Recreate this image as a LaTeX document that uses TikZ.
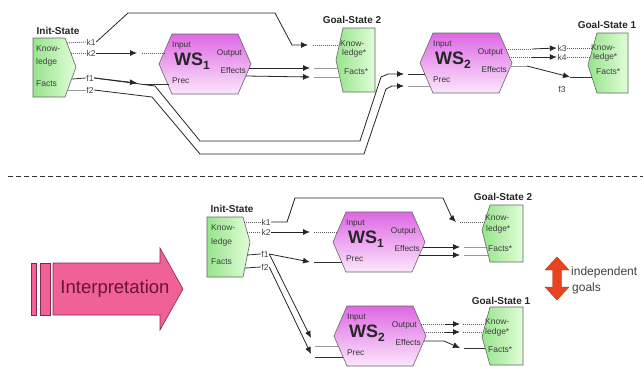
\documentclass[tikz,border=0pt]{standalone}
\usepackage{fontspec}
\setmainfont{Liberation Sans}
\usetikzlibrary{arrows.meta}
\definecolor{hxT}{RGB}{222,104,228}
\definecolor{hxB}{RGB}{252,230,252}
\definecolor{gbL}{RGB}{150,228,140}
\definecolor{gbR}{RGB}{226,253,216}
\definecolor{pinkA}{RGB}{240,98,150}
\definecolor{pinkD}{RGB}{130,40,70}
\definecolor{pinkT}{RGB}{105,20,50}
\definecolor{redA}{RGB}{232,66,30}
\tikzset{
  greenbox/.style={draw=black!60, line width=0.6pt, left color=gbL, right color=gbR},
  hexbox/.style={draw=black!60, line width=0.6pt, top color=hxT, bottom color=hxB},
  title/.style={font=\bfseries\fontsize{10}{10}\selectfont, inner sep=0pt, text=black!85},
  lbl/.style={font=\fontsize{8.5}{9}\selectfont, inner sep=0pt, text=black!75},
  hxs/.style={font=\fontsize{8.3}{9}\selectfont, inner sep=0pt, text=black!80},
  klbl/.style={font=\fontsize{8.5}{9}\selectfont, inner sep=0.5pt, text=black!75},
  wst/.style={font=\bfseries\fontsize{18}{18}\selectfont, inner sep=0pt, text=black!85},
  conn/.style={draw=black!80, line width=0.8pt},
  arr/.style={draw=black!85, line width=0.8pt, -{Latex[length=7pt,width=6pt]}},
  dots/.style={draw=black!65, line width=0.8pt, dash pattern=on 1pt off 1pt},
  greyl/.style={draw=black!40, line width=0.8pt},
  pics/wshex/.style={code={
    \path[hexbox] (-46,0) -- (-33,-30) -- (33,-30) -- (46,0) -- (33,30) -- (-33,30) -- cycle;
    \node[hxs, anchor=west] (-in) at (-33,-18) {Input};
    \node[wst, anchor=west] (-ws) at (-31,-3) {WS\raisebox{-4pt}{\fontsize{12}{12}\selectfont #1}};
    \node[hxs, anchor=east] (-out) at (37,-11) {Output};
    \node[hxs, anchor=east] (-eff) at (41,7) {Effects};
    \node[hxs, anchor=west] (-prec) at (-33,17) {Prec};
  }}
}
\begin{document}
\begin{tikzpicture}[x=1pt,y=-1pt]
\useasboundingbox (0,0) rectangle (643,367);
\fill[white] (0,0) rectangle (643,367);

% ================= TOP =================
% Init-State
\node[title] (tinit) at (58,31) {Init-State};
\path[greenbox] (33,38) -- (65,38) -- (76,67) -- (65,97) -- (33,97) -- cycle;
\node[lbl, anchor=west] (tknow) at (36,49) {Know-};
\node[lbl, anchor=west] (tledge) at (36,62) {ledge};
\node[lbl, anchor=west] (tfacts) at (36,84) {Facts};
\coordinate (tik1) at (67,43);
\coordinate (tik2) at (71,53);
\coordinate (tif1) at (72,79);
\coordinate (tif2) at (68,90);
\node[klbl] (tk1) at (91,42) {k1};
\node[klbl] (tk2) at (91,53) {k2};
\node[klbl] (tf1) at (90,78) {f1};
\node[klbl] (tf2) at (90,90) {f2};
\draw[dots] (tik1) -- (tk1.west);
\draw[dots] (tik2) -- (tk2.west);
\draw[conn] (tif1) -- (tf1.west);
\draw[greyl] (tif2) -- (tf2.west);

% WS1 and WS2
\pic (tws1) at (205,64) {wshex=1};
\pic (tws2) at (466,63) {wshex=2};

% Goal-State 2 (top)
\node[title] (tg2t) at (352,20) {Goal-State 2};
\path[greenbox] (336,60) -- (343,28) -- (375,28) -- (375,92) -- (343,92) -- cycle;
\node[lbl, anchor=west] (tg2know) at (340,44) {Know-};
\node[lbl, anchor=west] (tg2ledge) at (342,53) {ledge*};
\node[lbl, anchor=west] (tg2facts) at (344,72) {Facts*};

% Goal-State 1 (top)
\node[title] (tg1t) at (607,25) {Goal-State 1};
\path[greenbox] (588,65) -- (597,33) -- (628,33) -- (628,93) -- (597,93) -- cycle;
\node[lbl, anchor=west] (tg1know) at (591,48) {Know-};
\node[lbl, anchor=west] (tg1ledge) at (593,57) {ledge*};
\node[lbl, anchor=west] (tg1facts) at (596,72) {Facts*};

% coordinates of ports
\coordinate (tg2k) at (339,45);
\coordinate (tg2f1) at (338,68);
\coordinate (tg2f2) at (340,77);
\coordinate (tw1in) at (165,53);
\coordinate (tw1pr) at (169,84);
\coordinate (tw1e1) at (249,68);
\coordinate (tw1e2) at (246,76);
\coordinate (tw2p1) at (425,74);
\coordinate (tw2p2) at (430,86);
\coordinate (tw2o1) at (506,49);
\coordinate (tw2o2) at (509,57);
\coordinate (tw2o3) at (510,66);
\coordinate (tg1k1) at (593,48);
\coordinate (tg1k2) at (590,57);
\coordinate (tg1f) at (592,77);

% k1 -> Goal-State 2 knowledge
\coordinate (ta1) at (308,45);
\coordinate (ta1b) at (313,45);
\draw[arr] (tk1.east) -- (128,13) -- (275,13) -- (292,45) -- (ta1);
\draw[dots] (ta1b) -- (tg2k);
% k2 -> WS1 input
\coordinate (ta2) at (137,53);
\coordinate (ta2b) at (142,53);
\draw[arr] (tk2.east) -- (ta2);
\draw[dots] (ta2b) -- (tw1in);
% f1 -> WS1 prec
\coordinate (ta3) at (137,83);
\coordinate (ta3b) at (143,84);
\draw[arr] (tf1.east) -- (ta3);
\draw[conn] (ta3b) -- (tw1pr);
% f1, f2 -> WS2 prec
\coordinate (ta4) at (404,74);
\coordinate (ta4b) at (408,74);
\coordinate (ta5) at (404,86);
\coordinate (ta5b) at (408,86);
\draw[arr] (tf1.east) -- (155,86) -- (200,141) -- (360,141) -- (381,77) -- (388,74) -- (ta4);
\draw[arr] (tf2.east) -- (152,97) -- (200,154) -- (364,154) -- (386,89) -- (392,86) -- (ta5);
\draw[conn] (ta4b) -- (tw2p1);
\draw[greyl] (ta5b) -- (tw2p2);
% WS1 effects -> Goal-State 2 facts
\coordinate (ta6) at (310,68);
\coordinate (ta6b) at (314,68);
\coordinate (ta7) at (310,77);
\coordinate (ta7b) at (314,77);
\draw[arr] (tw1e1) -- (ta6);
\draw[arr] (tw1e2) -- (ta7);
\draw[greyl] (ta6b) -- (tg2f1);
\draw[greyl] (ta7b) -- (tg2f2);
% WS2 outputs -> k3, k4, f3
\node[klbl] (tk3) at (562,48) {k3};
\node[klbl] (tk4) at (562,57) {k4};
\node[klbl] (tf3) at (562,89) {f3};
\coordinate (tm1) at (532,49);
\coordinate (tm2) at (532,57);
\coordinate (tm3) at (527,66);
\coordinate (ta8) at (570,77);
\draw[dots] (tw2o1) -- (tm1);
\draw[arr] (tm1) -- (tk3.west);
\draw[dots] (tw2o2) -- (tm2);
\draw[arr] (tm2) -- (tk4.west);
\draw[dots] (tk3.east) -- (tg1k1);
\draw[dots] (tk4.east) -- (tg1k2);
\draw[greyl] (tw2o3) -- (tm3);
\draw[arr] (tm3) -- (ta8);
\draw[conn] (ta8) -- (tg1f);

% separator
\draw[draw=black!80, line width=0.8pt, dash pattern=on 5pt off 3pt] (8,176) -- (643,176);

% ================= BOTTOM =================
% Interpretation arrow
\path[fill=pinkA, draw=pinkD, line width=0.6pt] (31,263) rectangle (36,315);
\path[fill=pinkA, draw=pinkD, line width=0.6pt] (40,263) rectangle (50,315);
\path[fill=pinkA, draw=pinkD, line width=0.6pt] (53,263) -- (160,263) -- (160,248) -- (183,289) -- (160,330) -- (160,315) -- (53,315) -- cycle;
\node[font=\fontsize{18.5}{19}\selectfont, text=pinkT, inner sep=0pt] (interp) at (115,289) {Interpretation};

% Init-State (bottom)
\node[title] (binit) at (232,209) {Init-State};
\path[greenbox] (207,217) -- (243,217) -- (250,242) -- (243,277) -- (207,277) -- cycle;
\node[lbl, anchor=west] (bknow) at (211,228) {Know-};
\node[lbl, anchor=west] (bledge) at (211,242) {ledge};
\node[lbl, anchor=west] (bfacts) at (211,262) {Facts};
\coordinate (bik1) at (244,222);
\coordinate (bik2) at (247,232);
\coordinate (bif1) at (247,255);
\coordinate (bif2) at (245,268);
\node[klbl] (bk1) at (266,222) {k1};
\node[klbl] (bk2) at (266,232) {k2};
\node[klbl] (bf1) at (265,254) {f1};
\node[klbl] (bf2) at (265,267) {f2};
\draw[dots] (bik1) -- (bk1.west);
\draw[dots] (bik2) -- (bk2.west);
\draw[conn] (bif1) -- (bf1.west);
\draw[conn] (bif2) -- (bf2.west);

\pic (bws1) at (379,242) {wshex=1};
\pic (bws2) at (380,336) {wshex=2};

% Goal-State 2 (bottom)
\node[title] (bg2t) at (503,197) {Goal-State 2};
\path[greenbox] (482,230) -- (490,205) -- (523,205) -- (523,262) -- (490,262) -- cycle;
\node[lbl, anchor=west] (bg2know) at (485,218) {Know-};
\node[lbl, anchor=west] (bg2ledge) at (486,229) {ledge*};
\node[lbl, anchor=west] (bg2facts) at (488,249) {Facts*};
% Goal-State 1 (bottom)
\node[title] (bg1t) at (501,301) {Goal-State 1};
\path[greenbox] (482,337) -- (490,307) -- (523,307) -- (523,365) -- (490,365) -- cycle;
\node[lbl, anchor=west] (bg1know) at (485,322) {Know-};
\node[lbl, anchor=west] (bg1ledge) at (485,332) {ledge*};
\node[lbl, anchor=west] (bg1facts) at (488,350) {Facts*};

% ports
\coordinate (bg2k) at (485,222);
\coordinate (bg2f1) at (486,247);
\coordinate (bg2f2) at (488,255);
\coordinate (bg1k1) at (486,324);
\coordinate (bg1k2) at (483,332);
\coordinate (bg1f) at (485,348);
\coordinate (bw1in) at (337,232);
\coordinate (bw1pr) at (342,262);
\coordinate (bw1e1) at (423,247);
\coordinate (bw1e2) at (419,255);
\coordinate (bw2p1) at (338,346);
\coordinate (bw2p2) at (343,357);
\coordinate (bw2o1) at (421,324);
\coordinate (bw2o2) at (424,332);
\coordinate (bw2o3) at (424,341);

% k1 -> Goal-State 2
\coordinate (ba1) at (456,222);
\coordinate (ba1b) at (460,222);
\draw[arr] (bk1.east) -- (287,222) -- (295,198) -- (443,198) -- (452,218) -- (ba1);
\draw[dots] (ba1b) -- (bg2k);
% k2 -> WS1
\coordinate (ba2) at (310,232);
\coordinate (ba2b) at (314,232);
\draw[arr] (bk2.east) -- (ba2);
\draw[dots] (ba2b) -- (bw1in);
% f1 -> WS1 prec
\coordinate (ba3) at (310,262);
\coordinate (ba3b) at (314,262);
\draw[arr] (bf1.east) -- (ba3);
\draw[conn] (ba3b) -- (bw1pr);
% f1, f2 -> WS2 prec
\coordinate (ba4) at (311,338);
\coordinate (ba5) at (311,354);
\coordinate (ba4b) at (315,346);
\coordinate (ba5b) at (315,357);
\draw[arr] (bf1.east) -- (ba4);
\draw[arr] (bf2.east) -- (ba5);
\draw[greyl] (ba4b) -- (bw2p1);
\draw[conn] (ba5b) -- (bw2p2);
% WS1 effects -> Goal-State 2
\coordinate (ba6) at (460,247);
\coordinate (ba6b) at (464,247);
\coordinate (ba7) at (460,255);
\coordinate (ba7b) at (464,255);
\draw[arr] (bw1e1) -- (ba6);
\draw[arr] (bw1e2) -- (ba7);
\draw[greyl] (ba6b) -- (bg2f1);
\draw[greyl] (ba7b) -- (bg2f2);
% WS2 outputs -> Goal-State 1
\coordinate (bm1) at (445,324);
\coordinate (bm2) at (445,332);
\coordinate (ba8) at (460,324);
\coordinate (ba8b) at (463,324);
\coordinate (ba9) at (460,332);
\coordinate (ba9b) at (463,332);
\coordinate (ba10) at (460,348);
\coordinate (ba10b) at (464,348);
\draw[dots] (bw2o1) -- (bm1);
\draw[arr] (bm1) -- (ba8);
\draw[dots] (ba8b) -- (bg1k1);
\draw[dots] (bw2o2) -- (bm2);
\draw[arr] (bm2) -- (ba9);
\draw[dots] (ba9b) -- (bg1k2);
\draw[arr] (bw2o3) -- (444,341) -- (ba10);
\draw[conn] (ba10b) -- (bg1f);

% independent goals
\path[fill=redA, draw=redA!80!black, line width=0.4pt] (557,257) -- (569,270) -- (561.5,270) -- (561.5,287) -- (569,287) -- (557,300) -- (545,287) -- (552.5,287) -- (552.5,270) -- (545,270) -- cycle;
\node[font=\fontsize{12}{12}\selectfont, text=black!75, inner sep=0pt, anchor=west] (indep) at (571,272) {independent};
\node[font=\fontsize{12}{12}\selectfont, text=black!75, inner sep=0pt, anchor=west] (goals) at (572,288) {goals};
\end{tikzpicture}
\end{document}
